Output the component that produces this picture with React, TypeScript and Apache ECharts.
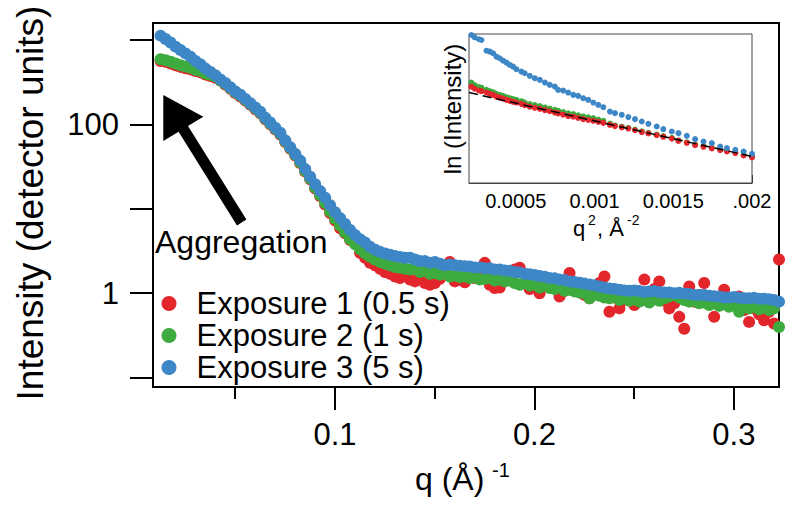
import React, { useEffect, useRef } from "react";
import * as echarts from "echarts";

// ---------- Main plot data: q (1/Å) and intensities (detector units) ----------
const qValues = [
  0.0126, 0.0151, 0.0176, 0.0201, 0.0226, 0.0251, 0.0276, 0.0301, 0.0326, 0.0351,
  0.0376, 0.0401, 0.0426, 0.0451, 0.0476, 0.0501, 0.0526, 0.0551, 0.0576, 0.0601,
  0.0626, 0.0651, 0.0676, 0.0701, 0.0726, 0.0751, 0.0776, 0.0801, 0.0826, 0.0851,
  0.0876, 0.0901, 0.0926, 0.0951, 0.0976, 0.1001, 0.1026, 0.1051, 0.1076, 0.1101,
  0.1126, 0.1151, 0.1176, 0.1201, 0.1226, 0.1251, 0.1276, 0.1301, 0.1326, 0.1351,
  0.1376, 0.1401, 0.1426, 0.1451, 0.1476, 0.1501, 0.1526, 0.1551, 0.1576, 0.1601,
  0.1626, 0.1651, 0.1676, 0.1701, 0.1726, 0.1751, 0.1776, 0.1801, 0.1826, 0.1851,
  0.1876, 0.1901, 0.1926, 0.1951, 0.1976, 0.2001, 0.2026, 0.2051, 0.2076, 0.2101,
  0.2126, 0.2151, 0.2176, 0.2201, 0.2226, 0.2251, 0.2276, 0.2301, 0.2326, 0.2351,
  0.2376, 0.2401, 0.2426, 0.2451, 0.2476, 0.2501, 0.2526, 0.2551, 0.2576, 0.2601,
  0.2626, 0.2651, 0.2676, 0.2701, 0.2726, 0.2751, 0.2776, 0.2801, 0.2826, 0.2851,
  0.2876, 0.2901, 0.2926, 0.2951, 0.2976, 0.3001, 0.3026, 0.3051, 0.3076, 0.3101,
  0.3126, 0.3151, 0.3176, 0.3201, 0.3226,
];

const exposure1 = [
  562, 550, 525, 501, 479, 462, 447, 427, 412, 389, 372, 355, 331,
  295, 263, 234, 214, 191, 170, 151, 135, 115, 100, 87.1, 75.9, 61.7, 51.3, 42.7, 34.7, 27.5, 22.4,
  17.4, 14.1, 11.2, 8.91, 7.24, 5.89, 5.13, 4.27, 4.07, 3.02,
  2.63, 2.29, 2.14, 1.95, 1.78, 1.7, 1.58, 1.51, 1.62, 1.45,
  1.38, 1.55, 1.32, 1.26, 1.32, 1.48, 1.86, 2.34, 1.38, 1.45,
  1.35, 1.66, 1.51, 1.91, 2.29, 1.26, 1.15, 1.17, 1.41, 1.66,
  1.91, 2.0, 1.32, 1.12, 1.2, 1.0, 1.26, 1.38, 1.15, 0.912,
  1.07, 1.74, 1.23, 1.1, 0.955, 0.871, 1.12, 1.32, 1.58, 0.603,
  0.891, 0.661, 0.832, 0.933, 0.724, 1.05, 1.45, 0.912, 1.12, 1.38,
  0.813, 0.661, 0.759, 0.525, 0.38, 1.2, 0.794, 0.955, 1.32, 0.871,
  0.525, 0.759, 1.1, 0.708, 0.832, 0.912, 0.631, 0.457, 0.661, 0.562,
  0.479, 0.603, 0.437, 2.51,
];

const exposure2 = [
  589, 575, 550, 525, 501, 484, 468, 442, 427, 398, 385, 367, 331,
  302, 269, 240, 219, 195, 174, 155, 138, 117, 102, 89.1, 77.6, 63.1, 52.5, 43.7, 35.5, 28.2, 22.9,
  17.8, 14.5, 11.7, 9.33, 7.59, 6.31, 5.25, 4.37, 3.8, 3.31,
  2.95, 2.69, 2.51, 2.34, 2.24, 2.14, 2.04, 2.0, 1.95, 1.91,
  1.95, 1.78, 1.86, 1.7, 1.74, 1.66, 1.7, 1.58, 1.62, 1.55,
  1.58, 1.51, 1.55, 1.45, 1.48, 1.51, 1.41, 1.45, 1.38, 1.41,
  1.32, 1.26, 1.32, 1.23, 1.26, 1.17, 1.23, 1.15, 1.12, 1.17,
  1.07, 1.1, 1.05, 1.02, 1.0, 0.871, 0.955, 0.933, 0.891, 0.871,
  0.912, 0.832, 0.871, 0.813, 0.851, 0.794, 0.832, 0.776, 0.851, 0.813,
  0.871, 0.912, 0.955, 0.891, 0.832, 0.794, 0.813, 0.759, 0.776, 0.724,
  0.759, 0.708, 0.741, 0.692, 0.724, 0.603, 0.708, 0.661, 0.692, 0.646,
  0.676, 0.631, 0.661, 0.398,
];

const exposure3 = [
  1122, 1023, 933, 832, 759, 692, 631, 562, 513, 457,
  417, 380, 339, 309, 275, 245, 224, 200, 178, 158,
  141, 120, 105, 91.2, 79.4, 64.6, 53.7, 44.7, 37.2, 29.5,
  24.0, 19.5, 16.2, 13.5, 11.0, 9.12, 7.76, 6.61, 5.62, 4.9,
  4.37, 3.98, 3.55, 3.27, 3.09, 2.95, 2.85, 2.75, 2.69,
  2.63, 2.63, 2.51, 2.4, 2.4, 2.29, 2.34, 2.24, 2.14, 2.19,
  2.14, 2.11, 2.09, 2.07, 2.02, 2.02, 1.97, 1.97, 1.91, 1.91,
  1.86, 1.84, 1.78, 1.76, 1.7, 1.68, 1.64, 1.6, 1.57, 1.51,
  1.5, 1.45, 1.43, 1.38, 1.36, 1.33, 1.3, 1.27, 1.24, 1.2,
  1.17, 1.14, 1.12, 1.1, 1.08, 1.07, 1.08, 1.06, 1.035, 1.05,
  1.06, 1.035, 1.02, 1.02, 1.0, 1.01, 0.99, 0.977, 0.955, 0.955,
  0.955, 0.933, 0.923, 0.912, 0.891, 0.891, 0.902, 0.881, 0.871, 0.871,
  0.881, 0.861, 0.861, 0.851, 0.832, 0.794,
];

const seriesNames = ["Exposure 1 (0.5 s)", "Exposure 2 (1 s)", "Exposure 3 (5 s)"];
const seriesColors = ["#e3262c", "#3dab3d", "#3d87c6"];

const xMajorTicks = [0.1, 0.2, 0.3];
const xMinorTicks = [0.05, 0.15, 0.25];
const yTicks = [0.1, 1, 10, 100, 1000];
const yLabelValues = [1, 100];

// ---------- Inset data: q^2 (1/Å^2) and ln(Intensity) ----------
const insetQ2 = [
  0.000218, 0.000239, 0.000266, 0.000282, 0.000314, 0.000335, 0.000356, 0.000377, 0.000398, 0.000419,
  0.000441, 0.000462, 0.000483, 0.000504, 0.000536, 0.000557, 0.000589, 0.000621, 0.000653, 0.000685,
  0.000716, 0.000748, 0.000769, 0.000801, 0.000833, 0.000865, 0.000896, 0.000928, 0.00096, 0.000992,
  0.001024, 0.001056, 0.001098, 0.00113, 0.001173, 0.001215, 0.001257, 0.0013, 0.001342, 0.001395,
  0.001437, 0.001491, 0.001533, 0.001586, 0.001639, 0.001692, 0.001745, 0.001798, 0.001841, 0.001894,
  0.001947, 0.002,
];
const insetLn1 = [
  6.22, 6.19, 6.165, 6.155, 6.133, 6.114, 6.099, 6.074, 6.059, 6.044,
  6.025, 6.01, 5.996, 5.985, 5.966, 5.946, 5.924, 5.908, 5.893, 5.873,
  5.857, 5.837, 5.825, 5.806, 5.786, 5.776, 5.758, 5.74, 5.727, 5.715,
  5.7, 5.684, 5.655, 5.637, 5.618, 5.601, 5.576, 5.549, 5.528, 5.503,
  5.479, 5.452, 5.418, 5.388, 5.355, 5.331, 5.307, 5.282, 5.261, 5.238,
  5.202, 5.173,
];
const insetLn2 = [
  6.28, 6.245, 6.215, 6.205, 6.173, 6.154, 6.139, 6.114, 6.099, 6.084,
  6.065, 6.05, 6.036, 6.025, 6.006, 5.986, 5.964, 5.948, 5.933, 5.913,
  5.897, 5.877, 5.865, 5.846, 5.826, 5.816, 5.798, 5.78, 5.767, 5.755,
  5.735, 5.714, 5.675, 5.647, 5.628, 5.611, 5.586, 5.559, 5.538, 5.513,
  5.489, 5.462, 5.428, 5.398, 5.365, 5.341, 5.317, 5.292, 5.271, 5.248,
  5.212, 5.183,
];
const insetLn3 = [
  6.985, 6.951, 6.922, 6.911, 6.753, 6.739, 6.715, 6.665, 6.641, 6.606,
  6.576, 6.542, 6.517, 6.479, 6.443, 6.419, 6.38, 6.346, 6.321, 6.281,
  6.247, 6.222, 6.173, 6.163, 6.133, 6.099, 6.084, 6.05, 6.025, 5.985,
  5.951, 5.917, 5.852, 5.829, 5.804, 5.77, 5.74, 5.705, 5.671, 5.631,
  5.592, 5.557, 5.533, 5.493, 5.444, 5.409, 5.385, 5.335, 5.312, 5.287,
  5.261, 5.227,
];
const insetFitQ2 = [0.000203, 0.002];
const insetFitLn = [6.133, 5.188];

const insetMajorTicks = [0.0005, 0.001, 0.0015, 0.002];
const insetTickLabels = ["0.0005", "0.001", "0.0015", ".002"];
const insetMinorTicks = [
  0.000219, 0.000234, 0.000249, 0.000263, 0.000278, 0.000293, 0.000308, 0.000322, 0.000337, 0.000352,
  0.000367, 0.000382, 0.000396, 0.000411, 0.000426, 0.000441, 0.000456, 0.00047, 0.000485,
  0.000531, 0.000563, 0.000594, 0.000625, 0.000656, 0.000688, 0.000719, 0.00075, 0.000781, 0.000813,
  0.000844, 0.000875, 0.000906, 0.000938, 0.000969,
  0.001038, 0.001077, 0.001115, 0.001154, 0.001192, 0.001231, 0.001269, 0.001308, 0.001346, 0.001385,
  0.001423, 0.001462,
  0.001545, 0.001591, 0.001636, 0.001682, 0.001727, 0.001773, 0.001818, 0.001864, 0.001909, 0.001955,
];

const FONT = "'Liberation Sans', Arial, Helvetica, sans-serif";

export default function App() {
  const ref = useRef<HTMLDivElement>(null);

  useEffect(() => {
    if (!ref.current) return;
    const chart = echarts.init(ref.current, undefined, { renderer: "svg" });

    const mainArrays = [exposure1, exposure2, exposure3];
    const insetArrays = [insetLn2, insetLn1, insetLn3];
    const insetColorIdx = [1, 0, 2];

    const mainSeries = mainArrays.map((arr, i) => ({
      name: seriesNames[i],
      type: "scatter",
      xAxisIndex: 0,
      yAxisIndex: 0,
      symbol: "circle",
      symbolSize: 12,
      itemStyle: { color: seriesColors[i], opacity: 1 },
      data: qValues.map((q, j) => [q, arr[j]]),
      z: 2 + i,
    }));

    const insetSeries = insetArrays.map((arr, i) => ({
      name: seriesNames[insetColorIdx[i]],
      type: "scatter",
      xAxisIndex: 2,
      yAxisIndex: 1,
      symbol: "circle",
      symbolSize: 6,
      itemStyle: { color: seriesColors[insetColorIdx[i]], opacity: 1 },
      data: insetQ2.map((q2, j) => [q2, arr[j]]),
      z: 6 + i,
    }));

    const fitSeries = {
      name: "fit",
      type: "line",
      xAxisIndex: 2,
      yAxisIndex: 1,
      symbol: "none",
      lineStyle: { color: "#000", width: 1.5, type: [9, 5] },
      data: insetFitQ2.map((q2, j) => [q2, insetFitLn[j]]),
      z: 10,
    };

    const option: any = {
      animation: false,
      backgroundColor: "#fff",
      textStyle: { fontFamily: FONT },
      grid: [
        {
          left: 153, top: 23, width: 626, height: 364,
          show: true, borderColor: "#000", borderWidth: 2,
          backgroundColor: "transparent",
        },
        {
          left: 469, top: 34, width: 283, height: 149,
          show: true, borderColor: "#444", borderWidth: 1,
          backgroundColor: "#fff", z: 4,
        },
      ],
      xAxis: [
        {
          type: "value", gridIndex: 0, min: 0.0088, max: 0.3226, position: "bottom",
          axisLine: { show: true, lineStyle: { color: "#000", width: 2 } },
          axisTick: { show: true, customValues: xMajorTicks, length: 23, lineStyle: { color: "#000", width: 2 } },
          axisLabel: {
            show: true, customValues: xMajorTicks, margin: 32, fontSize: 31,
            fontFamily: FONT, color: "#000", formatter: (v: number) => String(v),
          },
          splitLine: { show: false },
        },
        {
          type: "value", gridIndex: 0, min: 0.0088, max: 0.3226, position: "bottom",
          axisLine: { show: false },
          axisTick: { show: true, customValues: xMinorTicks, length: 12, lineStyle: { color: "#000", width: 2 } },
          axisLabel: { show: false },
          splitLine: { show: false },
        },
        {
          type: "value", gridIndex: 1, min: 0.000203, max: 0.002, position: "bottom",
          axisLine: { show: true, lineStyle: { color: "#444", width: 1 } },
          axisTick: { show: true, inside: true, customValues: insetMajorTicks, length: 8, lineStyle: { color: "#333", width: 1 } },
          axisLabel: {
            show: true, customValues: insetMajorTicks, margin: 8, fontSize: 20,
            fontFamily: FONT, color: "#000",
            formatter: (v: number) => {
              const idx = insetMajorTicks.findIndex((t) => Math.abs(t - v) < 1e-9);
              return idx >= 0 ? insetTickLabels[idx] : String(v);
            },
          },
          splitLine: { show: false },
        },
        {
          type: "value", gridIndex: 1, min: 0.000203, max: 0.002, position: "bottom",
          axisLine: { show: false },
          axisTick: { show: true, inside: true, customValues: insetMinorTicks, length: 3.5, lineStyle: { color: "#333", width: 1 } },
          axisLabel: { show: false },
          splitLine: { show: false },
        },
      ],
      yAxis: [
        {
          type: "log", logBase: 10, gridIndex: 0, min: 0.0775, max: 1585,
          axisLine: { show: true, lineStyle: { color: "#000", width: 2 } },
          axisTick: { show: true, customValues: yTicks, length: 23, lineStyle: { color: "#000", width: 2 } },
          axisLabel: {
            show: true, customValues: yLabelValues, margin: 34, fontSize: 31,
            fontFamily: FONT, color: "#000", formatter: (v: number) => String(v),
          },
          splitLine: { show: false },
          minorSplitLine: { show: false },
        },
        {
          type: "value", gridIndex: 1, min: 4.795, max: 7.0,
          axisLine: { show: true, lineStyle: { color: "#444", width: 1 } },
          axisTick: { show: false },
          axisLabel: { show: false },
          splitLine: { show: false },
        },
      ],
      legend: {
        data: seriesNames,
        orient: "vertical",
        left: 161.5,
        top: 287.5,
        padding: 0,
        itemGap: 0,
        itemWidth: 15,
        itemHeight: 15,
        icon: "circle",
        selectedMode: false,
        textStyle: {
          fontSize: 31, fontFamily: FONT, color: "#000", lineHeight: 32,
          padding: [0, 0, 0, 15],
        },
      },
      graphic: [
        {
          type: "text", x: 30, y: 203, rotation: Math.PI / 2,
          style: { text: "Intensity (detector units)", fontSize: 37, fontFamily: FONT, fill: "#000", align: "center", verticalAlign: "middle" },
        },
        {
          type: "text", x: 415, y: 479,
          style: { text: "q (Å)", fontSize: 32, fontFamily: FONT, fill: "#000", align: "left", verticalAlign: "middle" },
        },
        {
          type: "text", x: 492, y: 470,
          style: { text: "-1", fontSize: 20, fontFamily: FONT, fill: "#000", align: "left", verticalAlign: "middle" },
        },
        {
          type: "text", x: 155, y: 242,
          style: { text: "Aggregation", fontSize: 32, fontFamily: FONT, fill: "#000", align: "left", verticalAlign: "middle" },
        },
        {
          type: "polygon",
          shape: {
            points: [
              [163.3, 95], [163.3, 141], [178.6, 131.8], [237, 225.4],
              [246.4, 219.6], [188, 126], [203.3, 116.7],
            ],
          },
          style: { fill: "#000" },
        },
        {
          type: "text", x: 452.5, y: 109, rotation: Math.PI / 2,
          style: { text: "ln (Intensity)", fontSize: 24, fontFamily: FONT, fill: "#000", align: "center", verticalAlign: "middle" },
        },
        {
          type: "text", x: 573, y: 228,
          style: { text: "q", fontSize: 22, fontFamily: FONT, fill: "#000", align: "left", verticalAlign: "middle" },
        },
        {
          type: "text", x: 588, y: 220,
          style: { text: "2", fontSize: 14, fontFamily: FONT, fill: "#000", align: "left", verticalAlign: "middle" },
        },
        {
          type: "text", x: 597, y: 228,
          style: { text: ", Å", fontSize: 22, fontFamily: FONT, fill: "#000", align: "left", verticalAlign: "middle" },
        },
        {
          type: "text", x: 627, y: 220,
          style: { text: "-2", fontSize: 14, fontFamily: FONT, fill: "#000", align: "left", verticalAlign: "middle" },
        },
      ],
      series: [...mainSeries, ...insetSeries, fitSeries],
    };

    chart.setOption(option);
    return () => {
      chart.dispose();
    };
  }, []);

  return (
    <div
      ref={ref}
      style={{ position: "fixed", left: 0, top: 0, width: 800, height: 512, background: "#fff" }}
    />
  );
}
